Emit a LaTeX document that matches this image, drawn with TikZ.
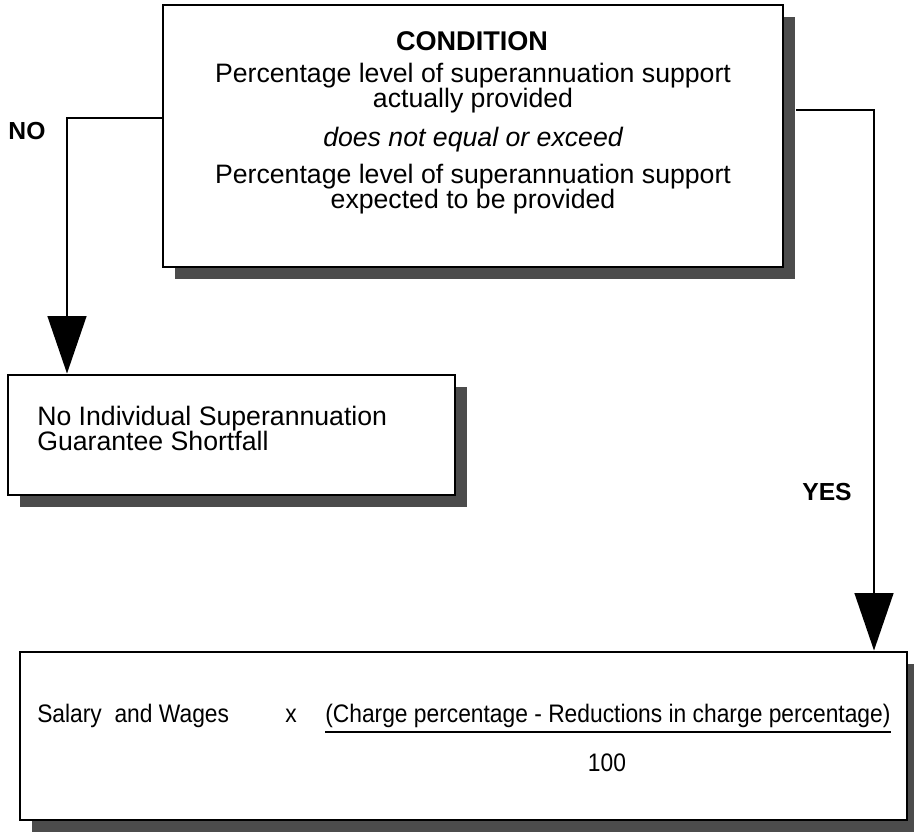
\documentclass[tikz,border=0pt]{standalone}
\usepackage{fontspec}
\setmainfont{Liberation Sans}
\newfontfamily\narrowsans[FakeStretch=0.9]{Liberation Sans}
\usetikzlibrary{arrows.meta,positioning,fit,shadows,calc}
\tikzset{
  box/.style={rectangle,draw=black,line width=2.2pt,fill=white,inner sep=0pt,
              general shadow={fill=black!70,shadow xshift=9pt,shadow yshift=-9pt}},
  txt/.style={align=center,font=\fontsize{20}{18.75}\selectfont,inner sep=0pt},
  frm/.style={font=\narrowsans\fontsize{19}{20}\selectfont,inner sep=0pt},
  lbl/.style={font=\fontsize{18.5}{20}\selectfont\bfseries,inner sep=0pt},
  fl/.style={line width=1.6pt,-{Triangle[length=43pt,width=29pt]}},
}

\begin{document}
\begin{tikzpicture}[x=0.75pt,y=-0.75pt]
  \useasboundingbox (0,0) rectangle (914,836);
  % boxes
  \node[box,fit={(163,5)(783,267)}] (cond) {};
  \node[box,fit={(8,375)(455,495)}] (shortfall) {};
  \node[box,fit={(20,652)(907,820)}] (charge) {};
  % condition text
  \node[txt,font=\fontsize{20.3}{20}\selectfont\bfseries] (condtitle) at (472,41) {CONDITION};
  \node[txt] (actual) at (473,88) {Percentage level of superannuation support\\actually provided};
  \node[txt,font=\fontsize{20}{20}\selectfont\itshape] (neq) at (473,140) {does not equal or exceed};
  \node[txt] (expected) at (473,189) {Percentage level of superannuation support\\expected to be provided};
  % shortfall text
  \node[txt,align=left,anchor=west] (noisg) at (37,428) {No Individual Superannuation\\Guarantee Shortfall};
  % formula
  \node[frm,anchor=west] (salary) at (37,716) {Salary\ \ and Wages};
  \node[frm] (times) at (291,716) {x};
  \node[frm,anchor=west] (num) at (325,716) {(Charge percentage - Reductions in charge percentage)};
  \draw[line width=1.8pt] ([yshift=-3pt]num.south west) -- ([yshift=-3pt]num.south east);
  \node[frm] (den) at (607,763) {100};
  % connectors
  \coordinate (nobend) at (67,118);
  \coordinate (yesbend) at (874,110);
  \draw[fl] (nobend -| cond.west) -- (nobend) -- (nobend |- shortfall.north);
  \draw[fl] ([xshift=9pt]yesbend -| cond.east) -- (yesbend) -- (yesbend |- charge.north);
  \node[lbl] (no) at (27,131) {NO};
  \node[lbl] (yes) at (827,492) {YES};
\end{tikzpicture}
\end{document}
